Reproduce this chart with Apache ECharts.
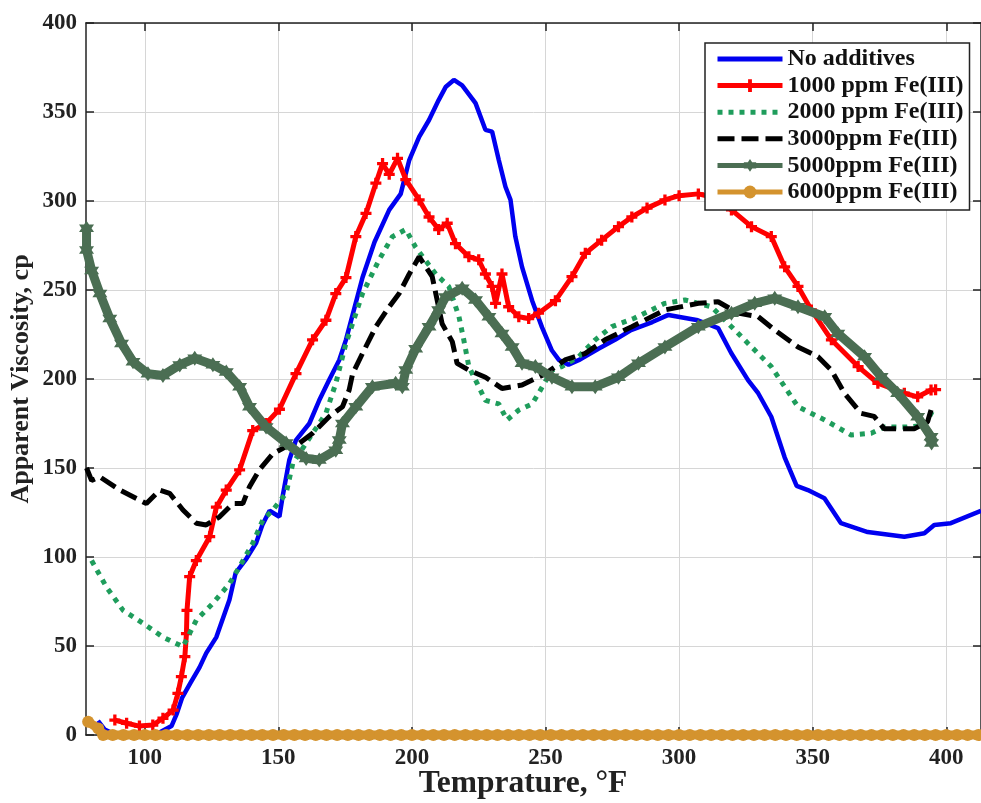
<!DOCTYPE html>
<html>
<head>
<meta charset="utf-8">
<script src="https://cdn.jsdelivr.net/npm/echarts@6/dist/echarts.min.js"></script>
<style>
  html, body { margin: 0; padding: 0; background: #fff; }
  #chart { width: 981px; height: 803px; }
</style>
</head>
<body>
<div id="chart"></div>
<script>
// Apparent viscosity (cp) versus temperature (°F) for several Fe(III) loadings

const yTicks = [0, 50, 100, 150, 200, 250, 300, 350, 400];
const xTicks = [100, 150, 200, 250, 300, 350, 400];

const seriesNames = ['No additives', '1000 ppm Fe(III)', '2000 ppm Fe(III)',
  '3000ppm Fe(III)', '5000ppm Fe(III)', '6000ppm Fe(III)'];

// No additives
const noAddT = [82.5, 85, 88, 95, 105, 110, 112, 114, 117, 120.5, 123, 126.8, 131.7, 134, 138, 141.7, 144, 146.7, 150.4, 151.6, 154.1, 156.6, 161.6, 165.3, 169, 172.8, 175.3, 181.5, 186, 191.5, 195.8, 199, 202.7, 206.4, 210, 212.6, 215.7, 218.8, 223.8, 227.5, 230, 232.5, 235, 236.9, 238.7, 241.2, 245, 248.7, 252.4, 255, 258.6, 263, 269.8, 276, 282, 290, 296, 307, 314.6, 319.5, 325.8, 329.6, 334.5, 339.5, 344, 348.2, 354.4, 360.6, 370.6, 384.3, 391.8, 395.5, 401.7, 413];
const noAddV = [8, 3, 1, 0.5, 1, 5, 12, 21, 29, 38, 46, 55, 76, 91, 99, 108, 118, 126, 122.6, 134, 154.5, 165.7, 175, 188, 199.4, 210.7, 222, 257, 277, 295, 304, 323, 336, 345.5, 356.7, 364, 368, 365, 355, 340, 339, 323, 308, 300.6, 280, 263, 244, 229, 216, 210.7, 208, 211, 217, 222, 227.5, 232, 236, 233, 228.6, 214.6, 199.4, 192, 178.8, 156, 140, 137.6, 133, 119, 114, 111.4, 113.3, 118, 119, 126];

// 1000 ppm Fe(III)
const fe1000T = [88.8, 93.2, 98, 103, 106.8, 110.6, 112.4, 113.7, 115, 115.6, 115.8, 116.8, 119.3, 124.3, 126.8, 130.5, 135.5, 140.4, 145.4, 150.4, 156.6, 162.8, 167.8, 171.5, 175.3, 179, 182.8, 186.5, 189, 191.5, 194.6, 197.7, 202.7, 206.4, 210, 213.2, 216.3, 221.3, 225, 227.5, 230, 231.3, 233.7, 236.2, 240, 243.7, 247.4, 253.7, 259.9, 264.9, 271, 277.3, 282.3, 288, 294.7, 300, 307.2, 313, 319.6, 327.1, 334.5, 339.5, 344.5, 349.5, 357, 367, 374.4, 384.3, 389.3, 394.3, 396];
const fe1000V = [8.4, 6.6, 5, 5.6, 9.4, 14, 23.4, 32.8, 44, 57, 70, 89, 98, 111.4, 128, 137.6, 149, 171, 175, 183, 203, 222, 233, 248, 257, 280, 293, 310, 321, 315, 324, 312, 300.6, 291, 284, 287.5, 276, 268.7, 267, 259, 252, 242.5, 259, 240.6, 235, 234, 237, 244, 257.5, 270.6, 278, 285.6, 291, 296, 300.6, 303, 304, 302, 295, 285.6, 280, 263, 252, 238.8, 222, 207, 197.6, 192, 190, 193.8, 194];

// 2000 ppm Fe(III)
const fe2000T = [80.1, 85.7, 91.9, 99.4, 106.8, 114.3, 119.3, 125.5, 131.7, 135.5, 140.4, 144.2, 147.9, 152.9, 155.4, 160.4, 167.8, 171.5, 175.3, 181.5, 187.7, 192.7, 197.7, 201.4, 208.9, 213.8, 217.6, 219.4, 221.3, 225, 227.5, 232.5, 235.6, 240, 245, 247.4, 252.4, 256.1, 262.4, 268.6, 274.8, 283, 294.7, 302.2, 312.1, 319.6, 325.8, 334.5, 339.5, 344.5, 354.5, 364.4, 371.9, 376.8, 385, 392, 395.5];
const fe2000V = [98, 83, 70, 62.7, 55, 49.6, 64.6, 74, 85, 94.6, 107.7, 120.8, 126.4, 135.8, 152.6, 164, 180.7, 197.6, 220, 248, 267, 280, 284, 274, 259, 252, 235, 222, 207, 195.7, 188, 186, 177, 182.6, 186, 192, 205, 207, 212.5, 222, 229.4, 234, 242.5, 244.4, 240.6, 229.4, 220, 207, 195.7, 184.4, 177, 168.5, 169.5, 173, 173, 174, 184];

// 3000 ppm Fe(III)
const fe3000T = [78.2, 80.1, 83.2, 90.7, 100.6, 105.6, 109.3, 114.3, 119.3, 123, 128, 133, 136.7, 139.2, 142.9, 147.9, 152.9, 157.9, 162.8, 169, 174, 176.5, 177.8, 181.5, 186.5, 191.5, 195.2, 199, 202.7, 207.6, 211.3, 215.1, 216.9, 221.3, 227.5, 233.7, 241.2, 250, 257.3, 264.9, 272.3, 282.3, 294.7, 307.2, 314.6, 322.1, 329.6, 335.8, 344.5, 352, 357, 361.9, 368.1, 373, 376.8, 388, 393, 394.3];
const fe3000V = [150, 143, 145, 137.6, 130, 137.6, 135.8, 126.4, 119, 118, 122.6, 130, 130, 139.5, 149, 158, 162, 164, 169.5, 178.8, 184.4, 193.8, 203, 214.4, 229.4, 240.6, 248, 259, 268.7, 257.5, 231, 221, 208.8, 205, 201, 194.7, 196.6, 203, 210.7, 214.4, 222, 229.4, 238.8, 242.5, 243.4, 237, 235, 227.5, 218, 212.5, 205, 192, 180.7, 179, 172, 172, 176, 182.6];

// 5000 ppm Fe(III)
const fe5000T = [78.2, 78.2, 80.1, 83.2, 86.9, 91.3, 95.6, 101.2, 106.8, 113.1, 118.7, 125.5, 130.5, 135.5, 139.2, 145.4, 152.9, 160.4, 165.3, 171.5, 172.8, 174, 179, 185.2, 193.9, 196.4, 197.7, 201.4, 206.4, 210, 212.6, 218.8, 223.8, 228.8, 233.7, 237.5, 241.2, 246.2, 252.4, 259.9, 268.6, 277.3, 284.8, 294.7, 307.2, 319.6, 328.3, 335.8, 344.5, 354.5, 359.4, 369.4, 375.6, 381.8, 389.3, 394.3, 394.5];
const fe5000V = [284.7, 272.5, 261, 248, 234, 220, 209.7, 203, 202, 207.9, 211.6, 208, 204, 195.7, 184.4, 173, 164, 155.4, 154.5, 160, 165.7, 175, 184.4, 195.7, 197.6, 195.7, 205, 217, 229.4, 238.8, 246, 251, 244.4, 235, 225.6, 218, 208.8, 207, 201, 195.7, 195.7, 201, 208.8, 218, 229.4, 237, 242.5, 245.3, 240.6, 235, 225.6, 212.5, 201.3, 192, 178.8, 167.6, 164];

// 6000 ppm Fe(III)
const fe6000T = [78.8, 82.6, 84.4, 88, 92, 96, 100, 104, 108, 112, 116, 120, 124, 128, 132, 136, 140, 144, 148, 152, 156, 160, 164, 168, 172, 176, 180, 184, 188, 192, 196, 200, 204, 208, 212, 216, 220, 224, 228, 232, 236, 240, 244, 248, 252, 256, 260, 264, 268, 272, 276, 280, 284, 288, 292, 296, 300, 304, 308, 312, 316, 320, 324, 328, 332, 336, 340, 344, 348, 352, 356, 360, 364, 368, 372, 376, 380, 384, 388, 392, 396, 400, 404, 408, 412];
const fe6000V = [7.5, 3.7, 0, 0, 0, 0, 0, 0, 0, 0, 0, 0, 0, 0, 0, 0, 0, 0, 0, 0, 0, 0, 0, 0, 0, 0, 0, 0, 0, 0, 0, 0, 0, 0, 0, 0, 0, 0, 0, 0, 0, 0, 0, 0, 0, 0, 0, 0, 0, 0, 0, 0, 0, 0, 0, 0, 0, 0, 0, 0, 0, 0, 0, 0, 0, 0, 0, 0, 0, 0, 0, 0, 0, 0, 0, 0, 0, 0, 0, 0, 0, 0, 0, 0, 0];

const pairs = (t, v) => t.map((x, i) => [x, v[i]]);

const FONT = '"Liberation Serif", "Times New Roman", serif';
const PLUS = 'path://M3.5,0H6.5V3.5H10V6.5H6.5V10H3.5V6.5H0V3.5H3.5Z';
const HEXAGRAM = 'path://M10,0L12.89,5L18.66,5L15.77,10L18.66,15L12.89,15L10,20L7.11,15L1.34,15L4.23,10L1.34,5L7.11,5Z';

const BLUE = '#0000f0', RED = '#ff0000', GREEN = '#1f9d5c', BLACK = '#000000',
  OLIVE = '#4b6e53', ORANGE = '#d4932e';

const X_MIN = 78, X_MAX = 413;

const chart = echarts.init(document.getElementById('chart'), null, { renderer: 'canvas' });

const tickLabel = { fontFamily: FONT, fontWeight: 'bold', fontSize: 23, color: '#222' };
const boxLine = { color: '#222', width: 1.5 };

const option = {
  animation: false,
  backgroundColor: '#fff',
  grid: { left: 86, right: -2, top: 23, bottom: 68, containLabel: false },
  xAxis: [
    {
      type: 'value', min: X_MIN, max: X_MAX, position: 'bottom',
      axisLine: { show: true, onZero: false, lineStyle: boxLine },
      axisTick: { show: true, inside: true, length: 8, customValues: xTicks, lineStyle: boxLine },
      axisLabel: Object.assign({ margin: 12, customValues: xTicks }, tickLabel),
      splitLine: { show: true, lineStyle: { color: '#d6d6d6', width: 1 } }
    },
    {
      type: 'value', min: X_MIN, max: X_MAX, position: 'top',
      axisLine: { show: true, onZero: false, lineStyle: boxLine },
      axisTick: { show: true, inside: true, length: 8, customValues: xTicks, lineStyle: boxLine },
      axisLabel: { show: false },
      splitLine: { show: false }
    }
  ],
  yAxis: [
    {
      type: 'value', min: 0, max: 400, interval: 50, position: 'left',
      axisLine: { show: true, onZero: false, lineStyle: boxLine },
      axisTick: { show: true, inside: true, length: 8, lineStyle: boxLine },
      axisLabel: Object.assign({ margin: 9 }, tickLabel),
      splitLine: { show: true, lineStyle: { color: '#d6d6d6', width: 1 } }
    },
    {
      type: 'value', min: 0, max: 400, interval: 50, position: 'right',
      axisLine: { show: true, onZero: false, lineStyle: boxLine },
      axisTick: { show: true, inside: true, length: 8, lineStyle: boxLine },
      axisLabel: { show: false },
      splitLine: { show: false }
    }
  ],
  legend: {
    orient: 'vertical',
    left: 705, top: 43,
    padding: [4, 6, 6, 10],
    itemWidth: 65, itemHeight: 16, itemGap: 2.6,
    backgroundColor: '#fff',
    borderColor: '#222', borderWidth: 1.5, borderRadius: 0,
    textStyle: { fontFamily: FONT, fontWeight: 'bold', fontSize: 24, color: '#111', lineHeight: 22 },
    data: [
      { name: seriesNames[0], itemStyle: { opacity: 0 }, lineStyle: { width: 5 } },
      { name: seriesNames[1], lineStyle: { width: 5 } },
      { name: seriesNames[2], itemStyle: { opacity: 0 }, lineStyle: { width: 5, type: [5, 6] } },
      { name: seriesNames[3], itemStyle: { opacity: 0 }, lineStyle: { width: 5, type: [17, 7] } },
      { name: seriesNames[4], lineStyle: { width: 5 } },
      { name: seriesNames[5], lineStyle: { width: 5 } }
    ]
  },
  graphic: [
    {
      type: 'text', x: 523, y: 768,
      style: { text: 'Temprature, °F', fontFamily: FONT, fontWeight: 'bold', fontSize: 31.5, fill: '#222', align: 'center', verticalAlign: 'top' },
      z: 10
    },
    {
      type: 'text', x: 8, y: 379, rotation: Math.PI / 2,
      style: { text: 'Apparent Viscosity, cp', fontFamily: FONT, fontWeight: 'bold', fontSize: 26, fill: '#222', align: 'center', verticalAlign: 'top' },
      z: 10
    }
  ],
  series: [
    {
      name: seriesNames[0], type: 'line', data: pairs(noAddT, noAddV),
      showSymbol: false, symbol: 'none', clip: true,
      lineStyle: { color: BLUE, width: 4.5 }, itemStyle: { color: BLUE }, z: 3
    },
    {
      name: seriesNames[1], type: 'line', data: pairs(fe1000T, fe1000V),
      symbol: PLUS, symbolSize: 11, showSymbol: true, clip: true,
      lineStyle: { color: RED, width: 5 }, itemStyle: { color: RED }, z: 3
    },
    {
      name: seriesNames[2], type: 'line', data: pairs(fe2000T, fe2000V),
      showSymbol: false, symbol: 'none', clip: true,
      lineStyle: { color: GREEN, width: 5, type: [5, 6] }, itemStyle: { color: GREEN }, z: 4
    },
    {
      name: seriesNames[3], type: 'line', data: pairs(fe3000T, fe3000V),
      showSymbol: false, symbol: 'none', clip: true,
      lineStyle: { color: BLACK, width: 5, type: [17, 7] }, itemStyle: { color: BLACK }, z: 4
    },
    {
      name: seriesNames[4], type: 'line', data: pairs(fe5000T, fe5000V),
      symbol: HEXAGRAM, symbolSize: 15, showSymbol: true, clip: false,
      lineStyle: { color: OLIVE, width: 9 }, itemStyle: { color: OLIVE }, z: 5
    },
    {
      name: seriesNames[5], type: 'line', data: pairs(fe6000T, fe6000V),
      symbol: 'circle', symbolSize: 12, showSymbol: true, clip: false,
      lineStyle: { color: ORANGE, width: 9 }, itemStyle: { color: ORANGE }, z: 5
    }
  ]
};

chart.setOption(option);
</script>
</body>
</html>
